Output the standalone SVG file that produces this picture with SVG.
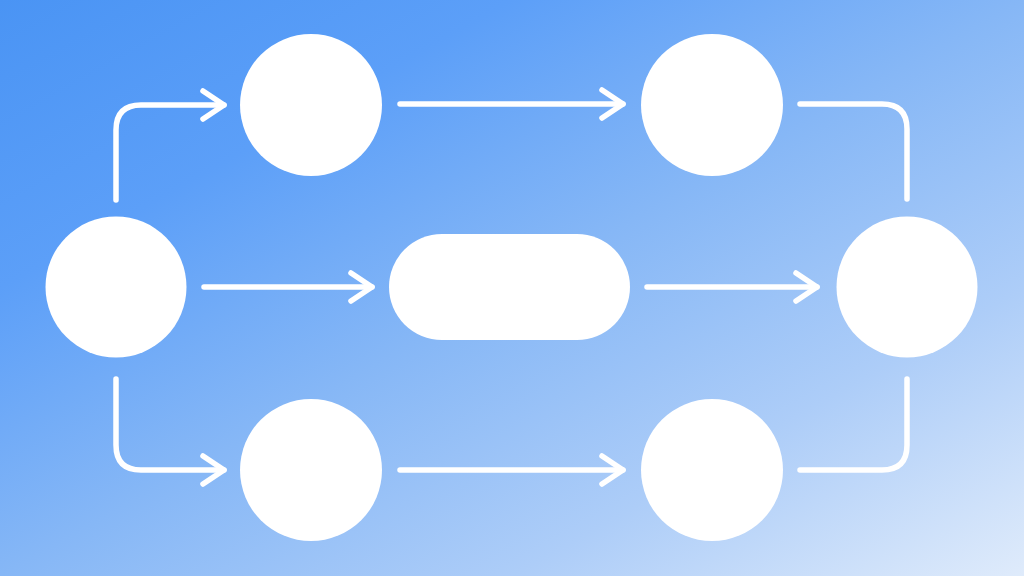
<svg xmlns="http://www.w3.org/2000/svg" width="1024" height="576" viewBox="0 0 1024 576">
<defs>
<linearGradient id="bg" x1="0" y1="0" x2="1" y2="1">
<stop offset="0" stop-color="#4a94f4"/>
<stop offset="0.25" stop-color="#5c9ff8"/>
<stop offset="0.5" stop-color="#86b7f6"/>
<stop offset="0.75" stop-color="#adcdf8"/>
<stop offset="1" stop-color="#dfebfb"/>
</linearGradient>
<style>
.node{fill:#ffffff}
.c{fill:none;stroke:#ffffff;stroke-width:5.5;stroke-linecap:round;stroke-linejoin:round}
</style>
</defs>
<rect width="1024" height="576" fill="url(#bg)"/>
<g id="connectors">
<path class="c" d="M116 200 V130 Q116 105 141 105 H224"/>
<path class="c" d="M203 91 L224 105 L203 119"/>
<path class="c" d="M400 104 H623"/>
<path class="c" d="M602 90 L623 104 L602 118"/>
<path class="c" d="M800 104 H882 Q907 104 907 129 V199"/>
<path class="c" d="M204 287 H372"/>
<path class="c" d="M351 273 L372 287 L351 301"/>
<path class="c" d="M647 287 H817"/>
<path class="c" d="M796 273 L817 287 L796 301"/>
<path class="c" d="M116 379 V445 Q116 470 141 470 H224"/>
<path class="c" d="M203 456 L224 470 L203 484"/>
<path class="c" d="M400 470 H623"/>
<path class="c" d="M602 456 L623 470 L602 484"/>
<path class="c" d="M800 470 H882 Q907 470 907 445 V379"/>
</g>
<g id="n-left"><circle class="node" cx="116" cy="287" r="70.5"/></g>
<g id="n-top1"><circle class="node" cx="311" cy="105" r="71"/></g>
<g id="n-top2"><circle class="node" cx="712" cy="105" r="71"/></g>
<g id="n-mid"><rect class="node" x="389" y="234" width="241" height="106" rx="53"/></g>
<g id="n-right"><circle class="node" cx="907" cy="287" r="70.5"/></g>
<g id="n-bot1"><circle class="node" cx="311" cy="470" r="71"/></g>
<g id="n-bot2"><circle class="node" cx="712" cy="470" r="71"/></g>
</svg>
